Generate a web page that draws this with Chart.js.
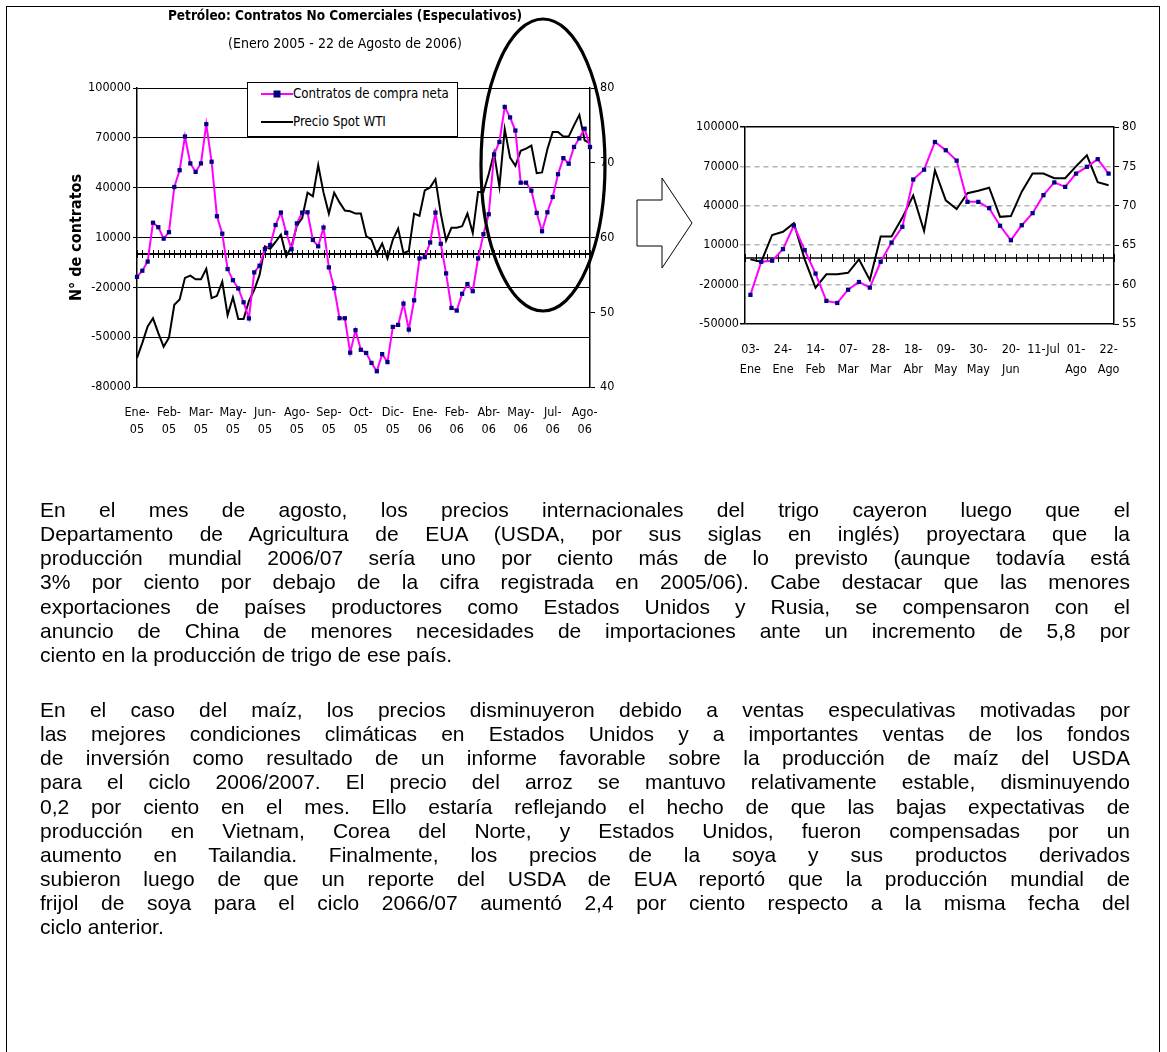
<!DOCTYPE html>
<html lang="es"><head><meta charset="utf-8"><title>Petróleo: Contratos No Comerciales</title>
<script src="https://cdn.jsdelivr.net/npm/chart.js@4.4.1/dist/chart.umd.min.js"></script>
<style>
html,body{margin:0;padding:0;background:#fff;}
body{width:1167px;height:1052px;position:relative;overflow:hidden;}
#frame{position:absolute;left:6px;top:6px;width:1154px;height:1100px;border:1.5px solid #000;box-sizing:border-box;}
#c1{position:absolute;left:55px;top:0;}
#c2{position:absolute;left:690px;top:100px;}
#legend{position:absolute;left:247px;top:82px;width:211px;height:55px;border:1px solid #000;background:#fff;box-sizing:border-box;font-family:'Liberation Sans Narrow','Arial Narrow','DejaVu Sans Condensed',sans-serif;font-size:13.2px;color:#000;}
#legend svg{position:absolute;left:12px;}
#legend span{position:absolute;left:45px;white-space:nowrap;line-height:18px;}
#overlay{position:absolute;left:0;top:0;pointer-events:none;}
.txt{position:absolute;left:40px;width:1090px;font-family:'Liberation Sans',Arial,sans-serif;font-size:21px;color:#000;}
.txt div{height:24.15px;line-height:24.15px;white-space:nowrap;}
.txt .j{text-align:justify;text-align-last:justify;}
</style></head><body>
<div id="frame"></div>
<canvas id="c1" width="580" height="440"></canvas>
<div id="legend">
  <svg style="top:3px" width="34" height="16"><line x1="1" y1="8" x2="33" y2="8" stroke="#ff00ff" stroke-width="2"/><rect x="13.5" y="4.5" width="7" height="7" fill="#000080"/></svg>
  <span style="top:2px">Contratos de compra neta</span>
  <svg style="top:31px" width="34" height="16"><line x1="1" y1="8" x2="33" y2="8" stroke="#000" stroke-width="2"/></svg>
  <span style="top:30px">Precio Spot WTI</span>
</div>
<canvas id="c2" width="460" height="290"></canvas>
<svg id="overlay" width="1167" height="1052">
  <ellipse cx="543" cy="165" rx="62" ry="146" fill="none" stroke="#000" stroke-width="3.2"/>
  <polygon points="637,200 662,200 662,178 692,223 662,268 662,246 637,246" fill="#fff" stroke="#000" stroke-width="1"/>
</svg>
<div class="txt" style="top:498px">
<div class="j">En el mes de agosto, los precios internacionales del trigo cayeron luego que el</div>
<div class="j">Departamento de Agricultura de EUA (USDA, por sus siglas en inglés) proyectara que la</div>
<div class="j">producción mundial 2006/07 sería uno por ciento más de lo previsto (aunque todavía está</div>
<div class="j">3% por ciento por debajo de la cifra registrada en 2005/06). Cabe destacar que las menores</div>
<div class="j">exportaciones de países productores como Estados Unidos y Rusia, se compensaron con el</div>
<div class="j">anuncio de China de menores necesidades de importaciones ante un incremento de 5,8 por</div>
<div>ciento en la producción de trigo de ese país.</div>
</div>
<div class="txt" style="top:698px">
<div class="j">En el caso del maíz, los precios disminuyeron debido a ventas especulativas motivadas por</div>
<div class="j">las mejores condiciones climáticas en Estados Unidos y a importantes ventas de los fondos</div>
<div class="j">de inversión como resultado de un informe favorable sobre la producción de maíz del USDA</div>
<div class="j">para el ciclo 2006/2007. El precio del arroz se mantuvo relativamente estable, disminuyendo</div>
<div class="j">0,2 por ciento en el mes. Ello estaría reflejando el hecho de que las bajas expectativas de</div>
<div class="j">producción en Vietnam, Corea del Norte, y Estados Unidos, fueron compensadas por un</div>
<div class="j">aumento en Tailandia. Finalmente, los precios de la soya y sus productos derivados</div>
<div class="j">subieron luego de que un reporte del USDA de EUA reportó que la producción mundial de</div>
<div class="j">frijol de soya para el ciclo 2066/07 aumentó 2,4 por ciento respecto a la misma fecha del</div>
<div>ciclo anterior.</div>
</div>
<script>
// ---------- DATA ----------
const weeks2005 = ['04-Ene','11-Ene','18-Ene','25-Ene','01-Feb','08-Feb','15-Feb','22-Feb','01-Mar','08-Mar','15-Mar','22-Mar','29-Mar','05-Abr','12-Abr','19-Abr','26-Abr','03-May','10-May','17-May','24-May','31-May','07-Jun','14-Jun','21-Jun','28-Jun','05-Jul','12-Jul','19-Jul','26-Jul','02-Ago','09-Ago','16-Ago','23-Ago','30-Ago','06-Sep','13-Sep','20-Sep','27-Sep','04-Oct','11-Oct','18-Oct','25-Oct','01-Nov','08-Nov','15-Nov','22-Nov','29-Nov','06-Dic','13-Dic','20-Dic','27-Dic'];
const weeks2006 = ['03-Ene','10-Ene','17-Ene','24-Ene','31-Ene','07-Feb','14-Feb','21-Feb','28-Feb','07-Mar','14-Mar','21-Mar','28-Mar','04-Abr','11-Abr','18-Abr','25-Abr','02-May','09-May','16-May','23-May','30-May','06-Jun','13-Jun','20-Jun','27-Jun','04-Jul','11-Jul','18-Jul','25-Jul','01-Ago','08-Ago','15-Ago','22-Ago'];

// net long non-commercial contracts (weekly)
const contracts2005 = [-13700,-10000,-4500,18900,16200,9300,13200,40400,50500,70800,54600,49500,54600,78200,55600,22800,12300,-9000,-15700,-20700,-29000,-38700,-11000,-7000,3000,5500,17500,25000,12800,3000,18500,25000,25200,8500,4700,16000,-8000,-20500,-38600,-38600,-59300,-45800,-57600,-59500,-65500,-70500,-60200,-65000,-43800,-42600,-29800,-45400];
const contracts2006 = [-27800,-2600,-1800,7000,25000,6200,-11600,-32400,-34000,-23900,-18000,-22300,-2600,12000,24000,60000,67500,88600,82300,74400,43000,43000,38200,24800,13800,25200,34400,48100,57800,54400,64500,69700,75500,64500];

// WTI spot price (US$/barrel, weekly)
const wti2005 = [43.9,45.9,48.1,49.2,47.2,45.4,46.6,51.0,51.7,54.6,54.9,54.4,54.4,55.8,51.9,52.2,54.1,49.6,52.0,49.1,49.1,51.5,53.0,55.0,58.8,58.5,59.4,60.4,57.5,58.8,61.6,62.6,66.0,65.5,69.7,66.0,63.2,66.0,64.7,63.6,63.5,63.2,63.2,60.2,59.7,57.8,59.2,57.2,59.7,61.2,57.9,58.2];
const wti2006 = [63.2,62.9,66.3,66.7,67.8,63.2,59.6,61.3,61.3,61.5,63.2,60.6,66.1,66.1,68.5,71.3,66.8,74.5,70.7,69.6,71.6,71.9,72.3,68.6,68.7,71.8,74.1,74.1,73.5,73.5,75.0,76.4,73.0,72.6];

// tick labels (every 6th week on the left chart, every 3rd on the right chart)
const leftTickLabels = [['Ene-','05'],['Feb-','05'],['Mar-','05'],['May-','05'],['Jun-','05'],['Ago-','05'],['Sep-','05'],['Oct-','05'],['Dic-','05'],['Ene-','06'],['Feb-','06'],['Abr-','06'],['May-','06'],['Jul-','06'],['Ago-','06']];
const rightTickLabels = [['03-','Ene'],['24-','Ene'],['14-','Feb'],['07-','Mar'],['28-','Mar'],['18-','Abr'],['09-','May'],['30-','May'],['20-','Jun'],['11-Jul',''],['01-','Ago'],['22-','Ago']];
const leftEvery = 6, rightEvery = 3;

// ---------- CHARTS ----------
const NARROW = "'Liberation Sans Narrow','Arial Narrow','DejaVu Sans Condensed',sans-serif";
Chart.defaults.font.family = NARROW;
Chart.defaults.color = '#000';

const zeroAxis = {
  id: 'zeroAxis',
  beforeDatasetsDraw(chart, args, opts) {
    const {ctx, chartArea, scales} = chart;
    const xs = scales.x, y0 = Math.round(scales.y.getPixelForValue(0));
    ctx.save();
    ctx.strokeStyle = '#000';
    ctx.lineWidth = opts.width;
    ctx.beginPath();
    ctx.moveTo(chartArea.left, y0); ctx.lineTo(chartArea.right, y0);
    ctx.stroke();
    ctx.lineWidth = 1;
    ctx.beginPath();
    const n = xs.getLabels().length;
    const step = xs.getPixelForValue(1) - xs.getPixelForValue(0);
    const pts = [];
    if (opts.between) { for (let i = 0; i <= n; i++) pts.push(xs.getPixelForValue(0) + (i - 0.5) * step); }
    else { for (let i = 0; i < n; i++) pts.push(xs.getPixelForValue(i)); }
    pts.forEach(p => { const x = Math.round(p) + 0.5; ctx.moveTo(x, y0 - opts.len); ctx.lineTo(x, y0 + opts.len); });
    ctx.stroke();
    ctx.restore();
  }
};

const plain = v => String(v);
const allWeeks = weeks2005.concat(weeks2006);
const allContracts = contracts2005.concat(contracts2006);
const allWti = wti2005.concat(wti2006);

new Chart(document.getElementById('c1'), {
  type: 'line',
  data: {
    labels: allWeeks,
    datasets: [
      {label: 'Contratos de compra neta', data: allContracts, yAxisID: 'y', borderColor: '#ff00ff', borderWidth: 2,
       pointStyle: 'rect', pointRadius: 3, pointBackgroundColor: '#000080', pointBorderColor: '#000080', pointBorderWidth: 0, tension: 0},
      {label: 'Precio Spot WTI', data: allWti, yAxisID: 'y2', borderColor: '#000', borderWidth: 2, pointRadius: 0, tension: 0}
    ]
  },
  options: {
    responsive: false, animation: false, devicePixelRatio: 1,
    layout: {padding: 0},
    plugins: {
      legend: {display: false}, tooltip: {enabled: false},
      title: {display: true, text: 'Petróleo: Contratos No Comerciales (Especulativos)', color: '#000',
              font: {family: NARROW, size: 13.5, weight: 'bold'}, padding: {top: 8, bottom: 4}},
      subtitle: {display: true, text: '(Enero 2005 - 22 de Agosto de 2006)', color: '#000',
              font: {family: NARROW, size: 14}, padding: {top: 8, bottom: 35}},
      zeroAxis: {len: 4, width: 2, between: false}
    },
    scales: {
      x: {
        type: 'category', offset: false,
        grid: {display: false}, border: {display: false},
        ticks: {autoSkip: false, maxRotation: 0, minRotation: 0, padding: 9, font: {size: 12.5, lineHeight: 1.36},
                callback: (v, i) => (i % leftEvery === 0 && leftTickLabels[i / leftEvery]) ? leftTickLabels[i / leftEvery] : ''},
        afterFit: s => { s.height = 53; }
      },
      y: {
        position: 'left', min: -80000, max: 100000,
        grid: {color: '#000', lineWidth: 1, tickLength: 4},
        border: {color: '#000', width: 1.5},
        ticks: {stepSize: 30000, padding: 2, font: {size: 12.5}, callback: plain},
        title: {display: true, text: 'N° de contratos', font: {family: NARROW, size: 16, weight: 'bold'}, padding: {top: 12, bottom: 0}},
        afterFit: s => { s.width = 82; }
      },
      y2: {
        position: 'right', min: 40, max: 80,
        grid: {drawOnChartArea: false, color: '#000', tickLength: 5},
        border: {color: '#000', width: 1.5},
        ticks: {stepSize: 10, padding: 5, font: {size: 12.5}, callback: plain},
        afterFit: s => { s.width = 45; }
      }
    }
  },
  plugins: [zeroAxis]
});

const isEdge = v => v === 100000 || v === -50000;
new Chart(document.getElementById('c2'), {
  type: 'line',
  data: {
    labels: weeks2006,
    datasets: [
      {label: 'Contratos de compra neta', data: contracts2006, yAxisID: 'y', borderColor: '#ff00ff', borderWidth: 2,
       pointStyle: 'rect', pointRadius: 3, pointBackgroundColor: '#000080', pointBorderColor: '#000080', pointBorderWidth: 0, tension: 0},
      {label: 'Precio Spot WTI', data: wti2006, yAxisID: 'y2', borderColor: '#000', borderWidth: 2, pointRadius: 0, tension: 0}
    ]
  },
  options: {
    responsive: false, animation: false, devicePixelRatio: 1,
    layout: {padding: {top: 27}},
    plugins: {legend: {display: false}, tooltip: {enabled: false}, zeroAxis: {len: 4, width: 1.5, between: true}},
    scales: {
      x: {
        type: 'category', offset: true,
        grid: {display: false}, border: {display: false},
        ticks: {autoSkip: false, maxRotation: 0, minRotation: 0, padding: 8, font: {size: 12.5, lineHeight: 1.6},
                callback: (v, i) => (i % rightEvery === 0 && rightTickLabels[i / rightEvery]) ? rightTickLabels[i / rightEvery] : ''},
        afterFit: s => { s.height = 66; }
      },
      y: {
        position: 'left', min: -50000, max: 100000,
        grid: {color: c => (c.tick && isEdge(c.tick.value)) ? '#000' : '#b4b4b4', lineWidth: 1.5, tickLength: 5},
        border: {color: '#000', width: 1.5, dash: c => (c.tick && isEdge(c.tick.value)) ? [] : [5, 4]},
        ticks: {stepSize: 30000, padding: 1, font: {size: 12.5}, callback: plain},
        afterFit: s => { s.width = 55; }
      },
      y2: {
        position: 'right', min: 55, max: 80,
        grid: {drawOnChartArea: false, color: '#000', tickLength: 5},
        border: {color: '#000', width: 1.5},
        ticks: {stepSize: 5, padding: 3, font: {size: 12.5}, callback: plain},
        afterFit: s => { s.width = 36; }
      }
    }
  },
  plugins: [zeroAxis]
});
</script>
</body></html>
